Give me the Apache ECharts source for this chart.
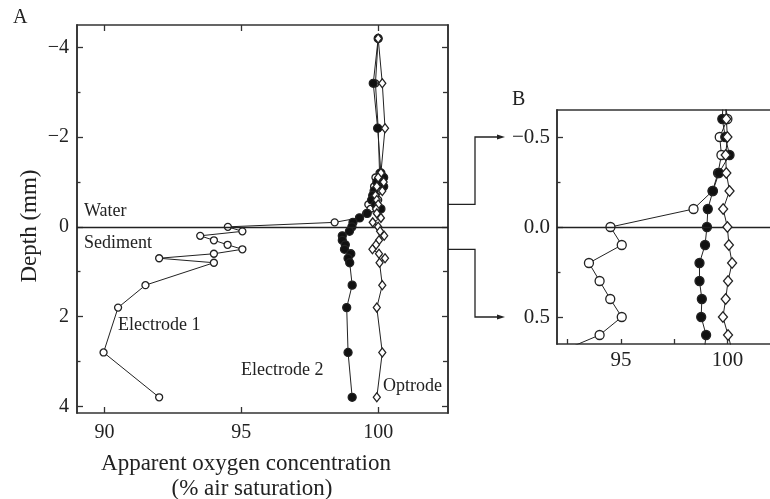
<!DOCTYPE html>
<html>
<head>
<meta charset="utf-8">
<script src="https://cdn.jsdelivr.net/npm/echarts@6/dist/echarts.min.js"></script>
<style>
  html, body { margin: 0; padding: 0; background: #fff; }
  #chart { width: 770px; height: 499px; }
</style>
</head>
<body>
<div id="chart"></div>
<script>
// Depth of each profile step (mm; negative = water column, positive = sediment)
const depths = [-4.2, -3.2, -2.2, -1.2, -1.1, -1.0, -0.9, -0.8, -0.7, -0.6, -0.5, -0.4, -0.3, -0.2, -0.1,
                0.0, 0.1, 0.2, 0.3, 0.4, 0.5, 0.6, 0.7, 0.8, 1.3, 1.8, 2.8, 3.8];

// Apparent O2 (% air saturation) read by each sensor at the depths above
const electrode1 = [100.0, 99.9, 100.0, 100.05, 99.9, 100.1, 99.85, 100.0, 99.9, 100.0, 99.64, 99.72, 99.56, 99.3, 98.41,
                    94.51, 95.04, 93.5, 94.0, 94.5, 95.04, 94.0, 92.0, 94.0, 91.5, 90.5, 89.97, 92.0];
const electrode2 = [100.0, 99.82, 99.98, 100.1, 100.2, 99.95, 100.2, 99.85, 99.8, 99.76, 99.9, 100.1, 99.6, 99.32, 99.08,
                    99.04, 98.95, 98.69, 98.69, 98.8, 98.77, 99.0, 98.9, 98.96, 99.05, 98.85, 98.9, 99.05];
const optrode    = [100.0, 100.15, 100.25, 100.1, 100.0, 100.2, 99.95, 100.15, 99.9, 99.95, 100.0, 99.92, 99.95, 100.1, 99.8,
                    100.0, 100.07, 100.22, 100.03, 99.92, 99.79, 100.03, 100.25, 100.05, 100.15, 99.95, 100.15, 99.95];

// Tick positions
const mainDepthTicks  = [-4, -2, 0, 2, 4];
const mainDepthMinor  = [-3, -1, 1, 3];
const mainO2Ticks     = [90, 95, 100];
const insetDepthTicks = [-0.5, 0, 0.5];
const insetDepthMinor = [-0.25, 0.25];
const insetO2Ticks    = [95, 100];
const insetO2AllTicks = [92.5, 95, 97.5, 100];

const FONT = '"Liberation Serif", "Times New Roman", serif';
const INK = '#222';
const AXIS = '#333';

const minus = v => (v < 0 ? '\u2212' : '') + Math.abs(v);
const minusFixed = v => (v < 0 ? '\u2212' : '') + Math.abs(v).toFixed(1);

const pairs = vals => vals.map((v, i) => [v, depths[i]]);

function axisBase(extra) {
  return Object.assign({
    type: 'value',
    splitLine: { show: false },
    axisLine: { show: true, onZero: false, lineStyle: { color: AXIS, width: 1.6 } },
    axisTick: { show: true, inside: true, length: 6, lineStyle: { color: AXIS, width: 1.3 } },
    axisLabel: { show: false },
    animation: false
  }, extra);
}

const mainY = { min: -4.5, max: 4.15, inverse: true, gridIndex: 0 };
const mainX = { min: 89, max: 102.55, gridIndex: 0 };
const insetY = { min: -0.65, max: 0.65, inverse: true, gridIndex: 1 };
const insetX = { min: 92, max: 102, gridIndex: 1 };

const xAxes = [
  axisBase(Object.assign({}, mainX, {
    position: 'bottom',
    axisTick: { show: true, inside: true, length: 6, customValues: mainO2Ticks, lineStyle: { color: AXIS, width: 1.3 } },
    axisLabel: { show: true, customValues: mainO2Ticks, margin: 10, fontFamily: FONT, fontSize: 20, color: INK }
  })),
  axisBase(Object.assign({}, mainX, {
    position: 'top',
    axisTick: { show: true, inside: true, length: 6, customValues: mainO2Ticks, lineStyle: { color: AXIS, width: 1.3 } }
  })),
  axisBase(Object.assign({}, insetX, {
    position: 'bottom',
    axisTick: { show: true, inside: true, length: 5, customValues: insetO2AllTicks, lineStyle: { color: AXIS, width: 1.3 } },
    axisLabel: { show: true, customValues: insetO2Ticks, margin: 6, fontFamily: FONT, fontSize: 21, color: INK }
  })),
  axisBase(Object.assign({}, insetX, {
    position: 'top',
    axisTick: { show: false }
  }))
];

const yAxes = [
  axisBase(Object.assign({}, mainY, {
    position: 'left',
    axisTick: { show: true, inside: true, length: 6, customValues: mainDepthTicks, lineStyle: { color: AXIS, width: 1.3 } },
    axisLabel: { show: true, customValues: mainDepthTicks, margin: 8, fontFamily: FONT, fontSize: 20, color: INK, formatter: minus }
  })),
  axisBase(Object.assign({}, mainY, {
    position: 'left',
    axisTick: { show: true, inside: true, length: 3.5, customValues: mainDepthMinor, lineStyle: { color: AXIS, width: 1.3 } }
  })),
  axisBase(Object.assign({}, mainY, {
    position: 'right',
    axisTick: { show: true, inside: true, length: 6, customValues: mainDepthTicks, lineStyle: { color: AXIS, width: 1.3 } }
  })),
  axisBase(Object.assign({}, mainY, {
    position: 'right',
    axisTick: { show: true, inside: true, length: 5, customValues: mainDepthMinor, lineStyle: { color: AXIS, width: 1.3 } }
  })),
  axisBase(Object.assign({}, insetY, {
    position: 'left',
    axisTick: { show: true, inside: true, length: 6, customValues: insetDepthTicks, lineStyle: { color: AXIS, width: 1.3 } },
    axisLabel: { show: true, customValues: insetDepthTicks, margin: 7, fontFamily: FONT, fontSize: 21, color: INK, formatter: minusFixed }
  })),
  axisBase(Object.assign({}, insetY, {
    position: 'left',
    axisTick: { show: true, inside: true, length: 3.5, customValues: insetDepthMinor, lineStyle: { color: AXIS, width: 1.3 } }
  }))
];

const zeroLine = {
  silent: true,
  symbol: ['none', 'none'],
  label: { show: false },
  lineStyle: { color: INK, width: 1.4, type: 'solid' },
  data: [{ yAxis: 0 }],
  animation: false
};

function profile(name, vals, xi, yi, marker, withZero) {
  const s = {
    name: name,
    type: 'line',
    xAxisIndex: xi,
    yAxisIndex: yi,
    data: pairs(vals),
    clip: true,
    animation: false,
    showAllSymbol: true,
    lineStyle: { color: INK, width: 1 },
    symbol: marker.symbol,
    symbolSize: marker.size,
    itemStyle: { color: marker.fill, borderColor: INK, borderWidth: 1.3 },
    emphasis: { disabled: true },
    z: marker.z
  };
  if (withZero) s.markLine = zeroLine;
  return s;
}

const mainMarks = {
  e1: { symbol: 'circle', size: 7, fill: '#fff', z: 3 },
  e2: { symbol: 'circle', size: 8, fill: '#111', z: 4 },
  op: { symbol: 'diamond', size: [7, 9], fill: '#fff', z: 5 }
};
const insetMarks = {
  e1: { symbol: 'circle', size: 9, fill: '#fff', z: 3 },
  e2: { symbol: 'circle', size: 9, fill: '#111', z: 4 },
  op: { symbol: 'diamond', size: [9, 10.5], fill: '#fff', z: 5 }
};

const option = {
  backgroundColor: '#fff',
  animation: false,
  grid: [
    { left: 77, top: 25, width: 371, height: 388 },
    { left: 557, top: 110, width: 213, height: 234 }
  ],
  xAxis: xAxes,
  yAxis: yAxes,
  series: [
    profile('Electrode 1', electrode1, 0, 0, mainMarks.e1, true),
    profile('Electrode 2', electrode2, 0, 0, mainMarks.e2, false),
    profile('Optrode', optrode, 0, 0, mainMarks.op, false),
    profile('Electrode 1', electrode1, 2, 4, insetMarks.e1, true),
    profile('Electrode 2', electrode2, 2, 4, insetMarks.e2, false),
    profile('Optrode', optrode, 2, 4, insetMarks.op, false)
  ]
};

const chart = echarts.init(document.getElementById('chart'), null, { renderer: 'canvas' });
chart.setOption(option);

// Annotation text and the connectors linking the main panel to the enlarged view
function txt(x, y, text, size, extra) {
  return Object.assign({
    type: 'text', x: x, y: y, silent: true, z: 20,
    style: Object.assign({ text: text, fontFamily: FONT, fontSize: size, fill: INK, align: 'left', verticalAlign: 'middle' }, extra || {})
  });
}

const main = (v, d) => chart.convertToPixel({ gridIndex: 0 }, [v, d]);
const inset = (v, d) => chart.convertToPixel({ gridIndex: 1 }, [v, d]);

const rightEdge = main(102.55, -0.5)[0];
const elbowX = rightEdge + 27;
const tipX = rightEdge + 57;

function connector(fromDepth, toDepth) {
  const yFrom = main(100, fromDepth)[1];
  const yTo = inset(95, toDepth)[1];
  return [
    { type: 'polyline', silent: true, z: 20,
      shape: { points: [[rightEdge, yFrom], [elbowX, yFrom], [elbowX, yTo], [tipX - 6, yTo]] },
      style: { stroke: INK, lineWidth: 1.3, fill: null } },
    { type: 'polygon', silent: true, z: 20,
      shape: { points: [[tipX, yTo], [tipX - 8, yTo - 2.6], [tipX - 8, yTo + 2.6]] },
      style: { fill: INK } }
  ];
}

chart.setOption({
  graphic: [
    txt(13, 18, 'A', 20),
    txt(512, 100, 'B', 20),
    txt(30, 226, 'Depth (mm)', 23, { align: 'center' }),
    txt(246, 464, 'Apparent oxygen concentration', 23, { align: 'center' }),
    txt(252, 489, '(% air saturation)', 23, { align: 'center' }),
    txt(84, 211, 'Water', 18),
    txt(84, 243, 'Sediment', 18),
    txt(118, 325, 'Electrode 1', 18),
    txt(241, 370, 'Electrode 2', 18),
    txt(383, 386, 'Optrode', 18)
  ].map((g, i) => (i === 2 ? Object.assign(g, { rotation: Math.PI / 2 }) : g))
   .concat(connector(-0.5, -0.5), connector(0.5, 0.5))
});
</script>
</body>
</html>
